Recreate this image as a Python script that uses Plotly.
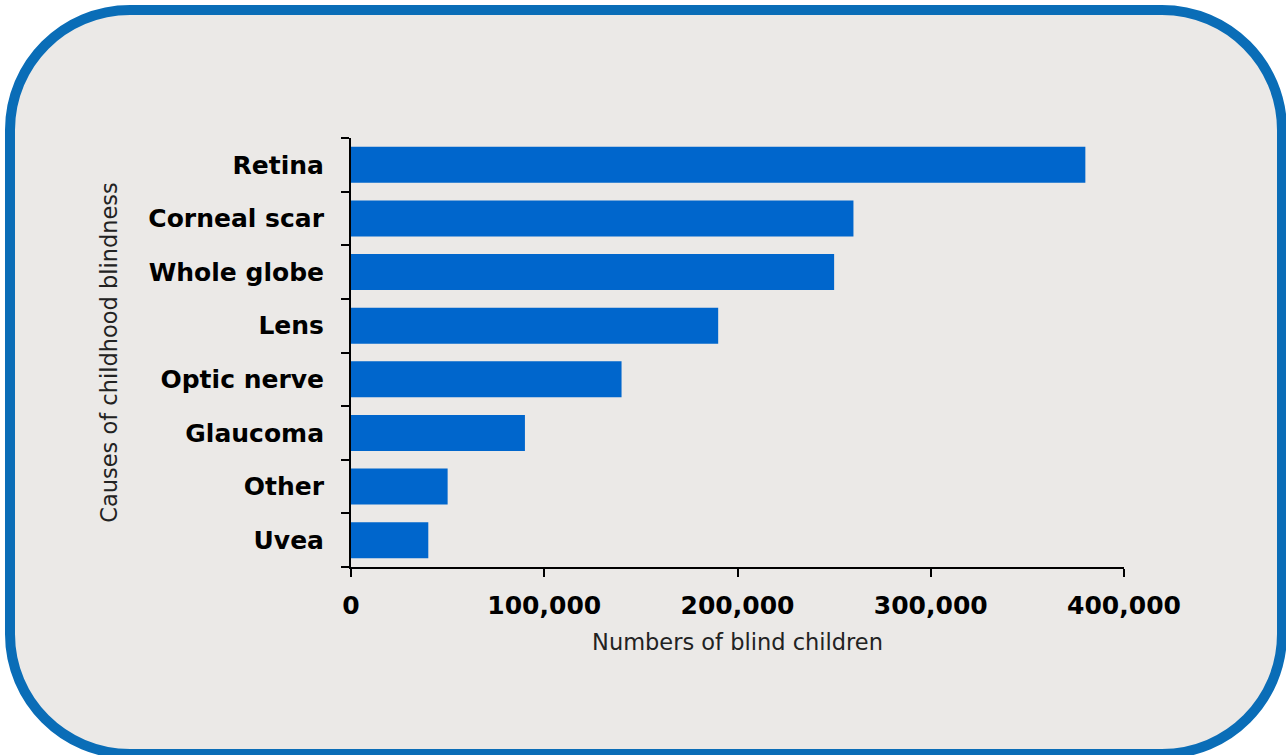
import plotly.graph_objects as go

causes = ["Retina", "Corneal scar", "Whole globe", "Lens", "Optic nerve", "Glaucoma", "Other", "Uvea"]
blind_children = [380000, 260000, 250000, 190000, 140000, 90000, 50000, 40000]
x_ticks = [0, 100000, 200000, 300000, 400000]
x_tick_labels = ["0", "100,000", "200,000", "300,000", "400,000"]

W, H = 1286, 755
L, R, T, B = 351, 1124, 138, 567

def px(x):
    return (x - L) / (R - L)

def py(y):
    return (B - y) / (B - T)

# rounded rectangle border (in pixel coords -> paper)
x0, y0, x1, y1, r = 10, 10, 1282, 754, 120
k = 0.5523 * r
def P(x, y):
    return f"{px(x):.5f},{py(y):.5f}"
path = (
    f"M {P(x0 + r, y0)} L {P(x1 - r, y0)} "
    f"C {P(x1 - r + k, y0)} {P(x1, y0 + r - k)} {P(x1, y0 + r)} "
    f"L {P(x1, y1 - r)} "
    f"C {P(x1, y1 - r + k)} {P(x1 - r + k, y1)} {P(x1 - r, y1)} "
    f"L {P(x0 + r, y1)} "
    f"C {P(x0 + r - k, y1)} {P(x0, y1 - r + k)} {P(x0, y1 - r)} "
    f"L {P(x0, y0 + r)} "
    f"C {P(x0, y0 + r - k)} {P(x0 + r - k, y0)} {P(x0 + r, y0)} Z"
)

fig = go.Figure(
    go.Bar(
        x=blind_children,
        y=causes,
        orientation="h",
        marker=dict(color="#0066cc", line=dict(width=0)),
        hoverinfo="x+y",
    )
)

fig.update_layout(
    width=W,
    height=H,
    autosize=False,
    margin=dict(l=L, r=W - R, t=T, b=H - B, pad=0),
    paper_bgcolor="white",
    plot_bgcolor="rgba(0,0,0,0)",
    bargap=0.33,
    showlegend=False,
    font=dict(family="DejaVu Sans, Verdana, sans-serif", color="black"),
    shapes=[
        dict(
            type="path",
            path=path,
            xref="paper",
            yref="paper",
            fillcolor="#ebe9e7",
            line=dict(color="#0a6db7", width=10),
            layer="below",
        )
    ],
)

fig.update_xaxes(
    range=[0, 400000],
    tickvals=x_ticks,
    ticktext=x_tick_labels,
    tickfont=dict(size=25, family="DejaVu Sans", weight="bold"),
    ticks="outside",
    ticklen=8,
    tickwidth=1.5,
    tickcolor="black",
    showline=True,
    linecolor="black",
    linewidth=1.5,
    showgrid=False,
    zeroline=False,
    ticklabelstandoff=7,
    title=dict(text="Numbers of blind children", font=dict(size=22.5, color="#222222"), standoff=15),
)

fig.update_yaxes(
    categoryorder="array",
    categoryarray=causes[::-1],
    tickfont=dict(size=25, family="DejaVu Sans", weight="bold"),
    ticks="outside",
    tickson="boundaries",
    ticklen=8,
    tickwidth=1.5,
    tickcolor="black",
    showline=True,
    linecolor="black",
    linewidth=2,
    showgrid=False,
    zeroline=False,
    ticklabelstandoff=20,
    title=dict(text="Causes of childhood blindness", font=dict(size=22.5, color="#222222"), standoff=24),
)

fig.write_html(
    "out.html",
    config={"displayModeBar": False},
    post_script="document.body.style.margin='0';document.body.style.overflow='hidden';",
)
